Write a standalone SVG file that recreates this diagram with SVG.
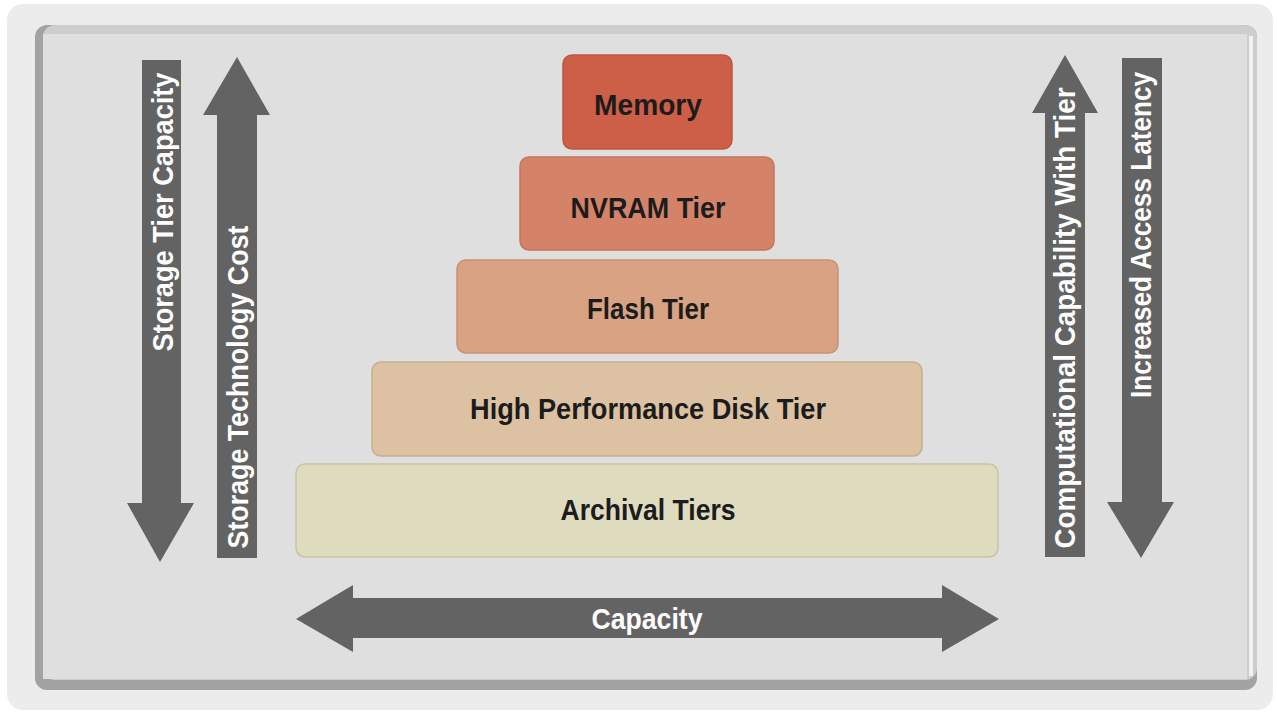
<svg xmlns="http://www.w3.org/2000/svg" width="1277" height="714" viewBox="0 0 1277 714">
<style>
.tier text{font-family:"Liberation Sans",Arial,sans-serif;font-weight:bold;font-size:29px;fill:#1c1c1c;text-anchor:middle}
.lbl{font-family:"Liberation Sans",Arial,sans-serif;font-weight:bold;font-size:30px;fill:#ffffff;text-anchor:middle}
.arr{fill:#636363}
</style>
<rect x="0" y="0" width="1277" height="714" fill="#ffffff"/>
<rect x="7" y="4" width="1266" height="706" rx="16" fill="#ececec"/>
<g id="panel">
<rect x="35" y="25" width="1222" height="665" rx="12" fill="#a3a3a3"/>
<rect x="43" y="25" width="1214" height="655" rx="12" fill="#cdcdcd"/>
<rect x="1249" y="36" width="4" height="640" fill="#f2f2f2"/>
<rect x="43" y="34" width="1204" height="645" fill="#dfdfdf"/>
</g>
<g id="tiers">
<g id="memory" class="tier">
<rect x="563" y="55" width="169" height="94" rx="9" fill="#cd5f48" stroke="#be573f" stroke-width="1.5"/>
<text x="648" y="115" textLength="108" lengthAdjust="spacingAndGlyphs">Memory</text>
</g>
<g id="nvram" class="tier">
<rect x="520" y="157" width="254" height="93" rx="9" fill="#d48369" stroke="#c4765c" stroke-width="1.5"/>
<text x="648" y="218" textLength="155" lengthAdjust="spacingAndGlyphs">NVRAM Tier</text>
</g>
<g id="flash" class="tier">
<rect x="457" y="260" width="381" height="93" rx="9" fill="#d9a283" stroke="#c79274" stroke-width="1.5"/>
<text x="648" y="319" textLength="122" lengthAdjust="spacingAndGlyphs">Flash Tier</text>
</g>
<g id="hpdisk" class="tier">
<rect x="372" y="362" width="550" height="94" rx="9" fill="#dcc2a2" stroke="#c8ae8e" stroke-width="1.5"/>
<text x="648" y="419" textLength="356" lengthAdjust="spacingAndGlyphs">High Performance Disk Tier</text>
</g>
<g id="archival" class="tier">
<rect x="296" y="464" width="702" height="93" rx="9" fill="#dfdbbf" stroke="#c7c3a8" stroke-width="1.5"/>
<text x="648" y="520" textLength="175" lengthAdjust="spacingAndGlyphs">Archival Tiers</text>
</g>
</g>
<g id="connectors">
<g id="storage-tier-capacity">
<polygon class="arr" points="142,60 181,60 181,503 194,503 160,562 127,503 142,503"/>
<text class="lbl" transform="translate(173,212) rotate(-90)" textLength="279" lengthAdjust="spacingAndGlyphs">Storage Tier Capacity</text>
</g>
<g id="storage-technology-cost">
<polygon class="arr" points="217,558 257,558 257,115 270,115 237,57 203,115 217,115"/>
<text class="lbl" transform="translate(248,387) rotate(-90)" textLength="323" lengthAdjust="spacingAndGlyphs">Storage Technology Cost</text>
</g>
<g id="computational-capability">
<polygon class="arr" points="1045,557 1085,557 1085,113 1098,113 1065,55 1032,113 1045,113"/>
<text class="lbl" transform="translate(1075,318) rotate(-90)" textLength="461" lengthAdjust="spacingAndGlyphs">Computational Capability With Tier</text>
</g>
<g id="access-latency">
<polygon class="arr" points="1122,58 1162,58 1162,502 1174,502 1141,558 1107,502 1122,502"/>
<text class="lbl" transform="translate(1151,235) rotate(-90)" textLength="326" lengthAdjust="spacingAndGlyphs">Increased Access Latency</text>
</g>
<g id="capacity">
<polygon class="arr" points="296,619 353,585 353,598 942,598 942,585 999,619 942,652 942,638 353,638 353,652"/>
<text class="lbl" x="647" y="629" textLength="111" lengthAdjust="spacingAndGlyphs">Capacity</text>
</g>
</g>
</svg>
